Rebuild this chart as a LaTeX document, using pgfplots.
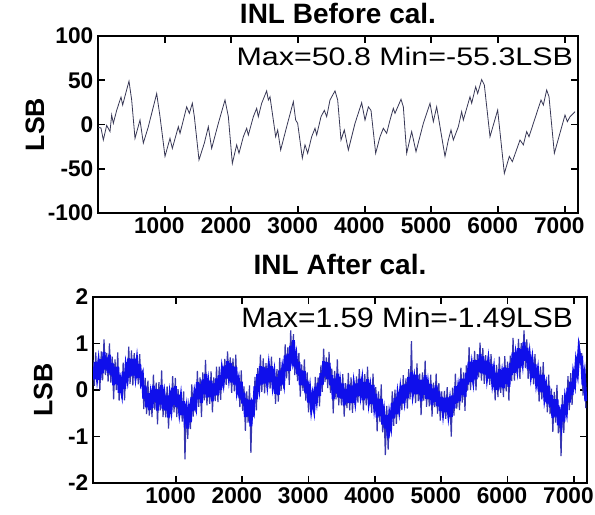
\documentclass[border=0pt]{standalone}
\usepackage{fontspec}
\setmainfont{Liberation Sans}
\usepackage{graphicx}
\usepackage{pgfplots}
\pgfplotsset{compat=1.18}
\definecolor{topline}{RGB}{55,55,85}
\definecolor{botline}{RGB}{15,15,235}
\definecolor{spikeline}{RGB}{55,55,175}
\pgfplotsset{
  inlaxis/.style={
    scale only axis,
    anchor=south west,
    axis line style={line width=1.6pt},
    tick style={line width=1.3pt, black},
    major tick length=5pt,
    tick align=inside,
    /pgf/number format/assume math mode=true,
    /pgf/number format/1000 sep={},
    ticklabel style={font=\fontsize{17}{17}\selectfont\bfseries},
    xticklabel style={xshift=-4pt},
    xtick={1000,2000,3000,4000,5000,6000,7000},
    ylabel style={font=\fontsize{20}{20}\selectfont\bfseries, at={(rel axis cs:0,0.5)}, anchor=south, inner sep=0pt},
    title style={font=\fontsize{21}{21}\selectfont\bfseries, inner sep=0pt, at={(0.5,1)}, anchor=south},
  }
}
\pgfplotstableread{
x y core
-250 0.65 0.50
-229 0.09 0.23
-209 0.81 0.60
-188 0.19 0.30
-167 0.68 0.56
-146 0.00 0.22
-125 0.83 0.66
-105 0.21 0.36
-84 1.09 0.82
-63 0.32 0.44
-43 0.80 0.70
-22 0.18 0.37
-2 1.00 0.76
19 0.16 0.32
40 0.72 0.58
61 -0.20 0.10
82 0.66 0.50
102 0.00 0.13
123 0.81 0.50
144 -0.23 -0.06
164 0.27 0.16
185 -0.18 -0.03
205 0.59 0.39
226 -0.22 0.02
247 0.60 0.47
268 0.16 0.28
289 0.93 0.68
309 0.13 0.29
330 0.85 0.67
351 0.10 0.31
371 0.79 0.67
392 0.21 0.35
412 0.75 0.60
433 0.12 0.26
454 0.77 0.56
475 0.08 0.19
496 0.42 0.30
516 -0.41 -0.19
537 0.26 0.09
558 -0.52 -0.37
578 0.20 -0.07
599 -0.55 -0.43
619 -0.05 -0.15
640 -0.58 -0.39
661 0.33 0.09
682 -0.42 -0.26
703 0.16 0.02
723 -0.74 -0.44
744 0.17 0.01
765 -0.44 -0.31
785 0.42 0.11
806 -0.58 -0.41
826 -0.04 -0.15
847 -0.59 -0.44
868 0.08 -0.12
889 -0.83 -0.59
910 -0.03 -0.16
930 -0.49 -0.37
951 0.30 0.05
972 -0.48 -0.32
992 0.26 0.08
1013 -0.58 -0.37
1033 0.02 -0.10
1054 -0.57 -0.43
1075 -0.04 -0.19
1096 -0.68 -0.54
1117 -0.03 -0.24
1137 -1.49 -0.61
1158 -0.30 -0.42
1179 -1.05 -0.83
1199 -0.30 -0.47
1220 -0.84 -0.69
1240 0.12 -0.15
1261 -0.57 -0.45
1282 -0.01 -0.11
1303 -0.48 -0.29
1324 0.41 0.17
1344 -0.36 -0.20
1365 0.27 0.13
1386 -0.58 -0.28
1406 0.38 0.22
1427 -0.22 -0.09
1447 0.65 0.34
1468 -0.33 -0.16
1489 0.23 0.12
1510 -0.30 -0.15
1531 0.40 0.20
1551 -0.48 -0.24
1572 0.27 0.14
1593 -0.24 -0.12
1613 0.50 0.25
1634 -0.26 -0.10
1654 0.50 0.32
1675 -0.21 0.00
1696 0.52 0.40
1717 0.06 0.20
1738 0.67 0.52
1758 0.11 0.25
1779 0.83 0.62
1800 0.21 0.32
1820 0.70 0.58
1841 -0.06 0.16
1861 0.68 0.51
1882 -0.03 0.12
1903 0.76 0.49
1924 -0.10 0.02
1945 0.28 0.18
1965 -0.37 -0.18
1986 0.42 0.18
2007 -0.45 -0.29
2027 0.08 -0.06
2048 -0.88 -0.58
2068 -0.03 -0.19
2089 -0.70 -0.57
2110 0.10 -0.21
2131 -1.35 -0.78
2152 -0.22 -0.33
2172 -0.58 -0.43
2193 0.28 0.08
2214 -0.44 -0.20
2234 0.47 0.34
2255 -0.01 0.11
2275 0.76 0.51
2296 -0.04 0.12
2317 0.68 0.50
2338 -0.07 0.14
2359 0.58 0.46
2379 0.04 0.18
2400 0.62 0.47
2421 0.03 0.17
2441 0.72 0.51
2462 0.03 0.14
2482 0.45 0.33
2503 -0.30 -0.08
2524 0.45 0.28
2545 -0.25 -0.10
2566 0.69 0.42
2586 -0.02 0.10
2607 0.52 0.42
2628 0.03 0.22
2648 0.98 0.74
2669 0.25 0.41
2689 0.92 0.78
2710 0.11 0.41
2731 1.28 0.95
2752 0.59 0.72
2773 1.20 1.07
2793 0.32 0.49
2814 0.80 0.69
2835 0.19 0.34
2855 0.80 0.60
2876 -0.14 0.10
2896 0.55 0.42
2917 -0.02 0.10
2938 0.66 0.41
2959 -0.23 -0.07
2980 0.38 0.20
3000 -0.48 -0.27
3021 0.10 -0.02
3042 -0.51 -0.37
3062 0.00 -0.15
3083 -0.50 -0.36
3103 0.28 0.07
3124 -0.28 -0.17
3145 0.27 0.15
3166 -0.35 -0.13
3187 0.53 0.36
3207 -0.04 0.11
3228 0.89 0.62
3249 0.17 0.29
3269 0.70 0.60
3290 0.04 0.23
3310 0.82 0.58
3331 -0.06 0.10
3352 0.46 0.32
3373 -0.50 -0.20
3394 0.41 0.25
3414 -0.20 -0.07
3435 0.66 0.35
3456 -0.33 -0.16
3476 0.22 0.11
3497 -0.33 -0.18
3517 0.34 0.14
3538 -0.57 -0.33
3559 0.15 0.02
3580 -0.39 -0.27
3601 0.37 0.12
3621 -0.44 -0.28
3642 0.27 0.09
3663 -0.49 -0.28
3683 0.19 0.07
3704 -0.32 -0.18
3724 0.29 0.14
3745 -0.27 -0.13
3766 0.45 0.24
3787 -0.17 -0.06
3808 0.28 0.16
3828 -0.44 -0.22
3849 0.34 0.17
3870 -0.33 -0.18
3890 0.50 0.23
3911 -0.32 -0.20
3931 0.11 0.01
3952 -0.49 -0.30
3973 0.35 0.11
3994 -0.47 -0.31
4015 0.06 -0.08
4035 -0.89 -0.59
4056 -0.03 -0.19
4077 -0.69 -0.56
4097 0.12 -0.19
4118 -0.91 -0.74
4138 -0.40 -0.51
4159 -1.40 -0.83
4180 -0.34 -0.54
4201 -1.28 -1.04
4222 -0.44 -0.57
4242 -0.86 -0.74
4263 -0.03 -0.28
4284 -0.77 -0.61
4304 0.01 -0.17
4325 -0.73 -0.52
4345 -0.03 -0.15
4366 -0.52 -0.38
4387 0.11 -0.04
4408 -0.43 -0.29
4429 0.32 0.11
4449 -0.27 -0.16
4470 0.25 0.13
4491 -0.40 -0.18
4511 0.45 0.28
4532 -0.20 -0.05
4552 1.05 0.38
4573 -0.15 -0.03
4594 0.30 0.20
4615 -0.28 -0.09
4636 0.57 0.33
4656 -0.24 -0.08
4677 0.35 0.21
4698 -0.54 -0.24
4718 0.38 0.22
4739 -0.23 -0.10
4759 0.63 0.32
4780 -0.36 -0.19
4801 0.19 0.08
4822 -0.35 -0.20
4843 0.33 0.13
4863 -0.57 -0.33
4884 0.16 0.03
4905 -0.37 -0.25
4925 0.35 0.10
4946 -0.51 -0.35
4966 0.15 -0.03
4987 -0.66 -0.45
5008 -0.03 -0.15
5029 -0.59 -0.45
5050 -0.02 -0.17
5070 -0.62 -0.48
5091 0.06 -0.15
5112 -0.60 -0.49
5132 -0.15 -0.27
5153 -1.00 -0.58
5173 0.05 -0.12
5194 -0.55 -0.40
5215 0.35 0.08
5236 -0.40 -0.28
5257 0.10 0.00
5277 -0.43 -0.24
5298 0.48 0.24
5319 -0.27 -0.11
5339 0.38 0.24
5360 -0.45 -0.15
5380 0.53 0.37
5401 -0.01 0.12
5422 0.92 0.61
5443 0.00 0.17
5464 0.60 0.49
5484 0.11 0.26
5505 0.84 0.64
5526 -0.01 0.23
5546 0.77 0.64
5567 0.27 0.39
5587 1.02 0.77
5608 0.20 0.36
5629 0.90 0.72
5650 0.13 0.34
5671 0.75 0.63
5691 0.18 0.32
5712 0.73 0.58
5733 0.11 0.25
5753 0.77 0.56
5774 0.09 0.20
5794 0.52 0.40
5815 -0.22 0.00
5836 0.54 0.37
5857 -0.15 0.00
5878 0.72 0.45
5898 -0.06 0.06
5919 0.41 0.31
5940 -0.15 0.04
5960 0.73 0.49
5981 -0.03 0.13
6001 0.61 0.47
6022 -0.23 0.07
6043 0.74 0.58
6064 0.19 0.32
6085 1.12 0.81
6105 0.20 0.37
6126 0.82 0.71
6147 0.35 0.50
6167 1.10 0.90
6188 0.24 0.48
6208 1.01 0.88
6229 0.52 0.64
6250 1.28 1.03
6271 0.47 0.63
6292 1.09 0.91
6312 0.24 0.45
6333 0.83 0.71
6354 0.23 0.37
6374 0.75 0.60
6395 0.12 0.26
6415 0.77 0.56
6436 0.08 0.19
6457 0.50 0.38
6478 -0.25 -0.03
6499 0.50 0.33
6519 -0.20 -0.05
6540 0.60 0.33
6561 -0.25 -0.13
6581 0.15 0.05
6602 -0.48 -0.29
6622 0.33 0.09
6643 -0.52 -0.36
6664 0.03 -0.11
6685 -0.90 -0.60
6706 -0.04 -0.20
6726 -0.70 -0.57
6747 0.11 -0.20
6768 -0.93 -0.76
6788 -0.43 -0.54
6809 -1.42 -0.73
6829 -0.11 -0.31
6850 -0.92 -0.68
6871 -0.10 -0.23
6892 -0.54 -0.42
6913 0.30 0.05
6933 -0.43 -0.27
6954 0.36 0.18
6975 -0.32 -0.11
6995 0.44 0.32
7016 0.02 0.16
7036 0.72 0.57
7057 0.25 0.39
7078 1.06 0.85
7099 0.53 0.64
7120 0.79 0.67
7140 -0.12 0.10
7161 0.47 0.30
7182 -0.39 -0.24
}\afterdata
\begin{document}
\begin{tikzpicture}
\useasboundingbox (0,0) rectangle (446.25pt,-385.5pt);
\begin{axis}[inlaxis, at={(73.5pt,-159.75pt)}, width=360pt, height=132.75pt,
  xmin=0, xmax=7200, ymin=-100, ymax=100, ytick={-100,-50,0,50,100},
  title={INL Before cal.}, title style={yshift=3pt},
  ylabel={LSB}, ylabel style={yshift=40pt}]
\addplot[topline, line width=0.6pt] coordinates {
(0,-3) (45,-4) (80,-17.5) (130,-1) (180,-8) (205,10.7) (230,1.3) (280,16) (345,31) (370,22)
(415,35) (465,49) (505,27.7) (555,-15.6) (630,5) (680,-21) (755,-2.5) (880,35) (930,9) (1005,-36)
(1080,-15.6) (1115,-27) (1205,-2.5) (1230,-10) (1330,20) (1370,12.6) (1415,24) (1445,9) (1515,-40) (1595,-21)
(1655,-2.5) (1705,-27) (1805,1.3) (1905,27.7) (1955,9) (2015,-44) (2080,-23) (2115,-32.5) (2180,-13.8) (2230,-4.3)
(2255,-11.9) (2330,8.8) (2380,18.3) (2405,8.8) (2455,24) (2530,38) (2555,27.7) (2580,31.4) (2630,5) (2665,-13.8)
(2695,-6.2) (2740,-28.8) (2830,-2.5) (2930,25.8) (2965,5) (2995,1.3) (3065,-38) (3105,-23) (3145,-32.5) (3205,-13.8)
(3255,-4.3) (3280,-11.9) (3345,8.8) (3395,16) (3430,8.8) (3480,27.7) (3555,38) (3595,27.7) (3645,-17.5) (3695,-6.2)
(3755,-28.8) (3855,1.3) (3955,24.6) (4005,5) (4055,20) (4095,16) (4165,-32.5) (4230,-13.8) (4280,-4.3) (4330,-10)
(4380,5) (4430,18.3) (4455,12.6) (4545,28.5) (4580,20) (4630,-32.5) (4705,-8) (4770,-30.7) (4880,1.3) (4980,24)
(5030,3.2) (5080,20) (5105,8.8) (5180,-25) (5205,-36) (5255,-17.5) (5295,-6.2) (5330,-17.5) (5405,-2.5) (5455,14.5)
(5480,5) (5580,31.4) (5605,24) (5665,42.7) (5695,35) (5755,50.8) (5795,44.6) (5880,-13.8) (5995,16.4) (6095,-55.3)
(6170,-36) (6215,-42) (6330,-17.5) (6380,-23) (6430,-8) (6465,-13.8) (6555,7) (6645,27.7) (6680,22) (6730,39)
(6765,31.4) (6845,-32.5) (7005,10.7) (7040,3.2) (7080,8.8) (7155,14.5)
};
\node[anchor=north east, inner sep=0pt, font=\fontsize{19}{19}\selectfont] at (rel axis cs:0.99,0.94) {\scalebox{1.2}[1]{Max=50.8 Min=-55.3LSB}};
\end{axis}
\begin{axis}[inlaxis, at={(69.75pt,-362.25pt)}, width=370.5pt, height=139.5pt,
  xmin=-250, xmax=7200, ymin=-2, ymax=2, ytick={-2,-1,0,1,2},
  title={INL After cal.}, title style={yshift=10.5pt},
  ylabel={LSB}, ylabel style={yshift=30pt}]
\addplot[spikeline, line width=0.9pt] table[x=x, y=y] {\afterdata};
\addplot[botline, line width=2.2pt] table[x=x, y=core] {\afterdata};
\node[anchor=north east, inner sep=0pt, font=\fontsize{21}{21}\selectfont] at (rel axis cs:0.972,0.946) {\scalebox{1.07}[1]{Max=1.59 Min=-1.49LSB}};
\end{axis}
\end{tikzpicture}
\end{document}
